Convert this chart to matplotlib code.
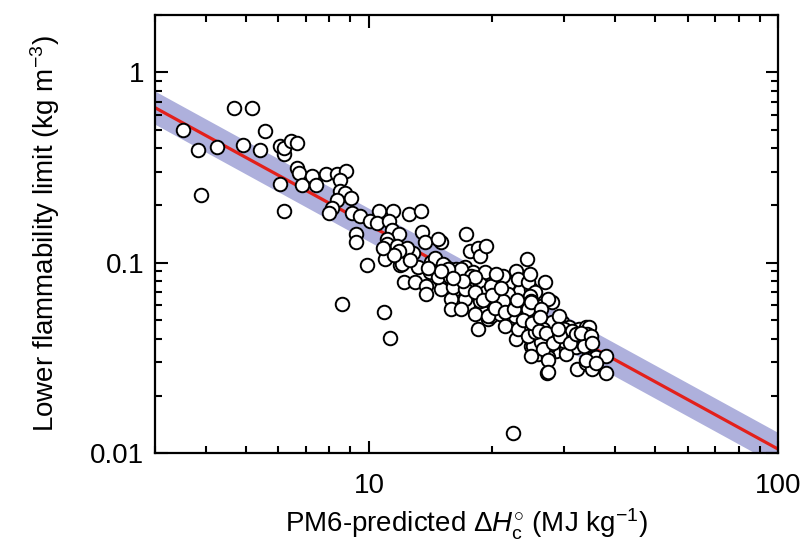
import numpy as np
import matplotlib.pyplot as plt

plt.rcParams.update({"font.family": "Liberation Sans", "font.size": 19,
                     "mathtext.fontset": "custom", "mathtext.rm": "Liberation Sans",
                     "mathtext.it": "Liberation Sans:italic", "mathtext.bf": "Liberation Sans:bold"})

# PM6-predicted heat of combustion (MJ/kg) vs lower flammability limit (kg/m3)
dhc = [3.50, 3.81, 3.88, 4.25, 4.68, 5.18, 4.92, 5.42, 5.57, 6.07, 6.21, 6.21, 6.43, 6.65, 6.65, 6.73, 6.04, 6.84, 6.18,
       7.24, 7.40, 7.83, 8.34, 8.78, 8.48, 8.48, 8.73, 8.34, 8.11, 7.97, 9.03, 9.08, 9.50, 9.29, 9.29,
       10.06, 10.58, 10.46, 11.46, 11.20, 11.40, 11.85, 11.07, 11.07, 11.72, 12.55, 13.36, 12.77, 12.41, 10.95,
       9.89, 11.92, 8.58, 10.89, 11.27,
       13.5, 13.66, 14.95, 14.70, 17.24, 17.62, 18.45, 18.66, 19.30, 11.85, 12.06, 13.13, 14.13, 15.30, 15.74,
       16.28, 17.14, 17.93, 19.19, 12.19, 12.98, 13.74, 14.87, 14.95, 16.19, 17.43, 18.13, 18.77, 13.74, 15.83,
       17.14, 18.45, 15.83, 16.75, 18.77, 19.52, 14.45, 15.13, 14.05, 14.70, 15.74, 16.47, 16.75, 15.57, 16.01,
       17.14, 17.72, 18.66, 19.30, 20.67, 20.67, 21.88, 22.25, 21.02, 19.87, 18.66, 19.87, 22.76, 23.39, 24.92,
       24.49, 26.38, 27.92, 25.93, 24.92, 27.44, 22.89, 24.92, 26.98, 24.49, 25.93, 28.56,
       24.35, 22.89, 26.98, 18.13, 23.15, 24.49, 25.49, 27.44, 24.49, 23.53, 20.90, 22.0, 22.89, 24.21, 25.93,
       29.58, 30.76, 32.53, 33.87, 33.87, 32.53, 30.76, 28.56, 26.98, 25.49, 25.20, 27.44, 30.26, 31.99, 33.87,
       27.44, 27.14, 30.26, 32.17, 33.87, 35.04, 35.84, 37.92, 37.92, 34.45, 19.87, 21.88, 21.26, 24.77, 18.13,
       20.09, 21.26, 23.53, 24.92, 18.13, 19.52, 22.76, 24.49, 26.23, 18.45, 21.50, 23.15, 25.49, 24.49, 26.38,
       26.68, 20.44, 24.77,
       24.92, 26.38, 25.49, 27.92, 29.06, 25.49, 26.68, 28.24, 29.92, 30.76, 31.28, 34.06, 33.46, 24.92, 27.44,
       27.44, 33.87, 35.84, 29.92, 22.50,
       19.0, 20.3, 21.5, 22.6, 23.8, 25.0, 26.0, 27.0, 28.2, 29.2, 31.0, 32.0, 33.0, 34.9, 35.0, 20.0, 21.0,
       23.0, 26.2, 28.9, 17.0, 16.0, 15.0, 13.9, 12.6, 11.5, 10.8]
lfl = [0.50, 0.392, 0.226, 0.406, 0.653, 0.653, 0.416, 0.392, 0.493, 0.411, 0.373, 0.40, 0.437, 0.426, 0.314, 0.296, 0.259, 0.255, 0.186,
       0.285, 0.255, 0.292, 0.292, 0.303, 0.272, 0.238, 0.232, 0.213, 0.195, 0.182, 0.218, 0.182, 0.177, 0.142, 0.129,
       0.165, 0.186, 0.161, 0.186, 0.165, 0.148, 0.142, 0.134, 0.126, 0.122, 0.180, 0.186, 0.112, 0.119, 0.105,
       0.0976, 0.0976, 0.0607, 0.0551, 0.0401,
       0.146, 0.129, 0.129, 0.134, 0.142, 0.116, 0.119, 0.109, 0.123, 0.116, 0.0988, 0.0953, 0.101, 0.0964, 0.0929,
       0.0929, 0.0953, 0.0896, 0.0896, 0.0793, 0.0793, 0.0755, 0.0822, 0.0728, 0.0728, 0.0803, 0.0755, 0.0728, 0.0686, 0.0645,
       0.0645, 0.0669, 0.0571, 0.0571, 0.0585, 0.0506, 0.106, 0.0988, 0.0896, 0.0843, 0.0843, 0.0875, 0.0929, 0.0929, 0.0746,
       0.0728, 0.0853, 0.0774, 0.0702, 0.0853, 0.0728, 0.0774, 0.0661, 0.0622, 0.0629, 0.0629, 0.0524, 0.0607, 0.0711, 0.0728,
       0.0592, 0.0592, 0.0622, 0.0524, 0.0464, 0.0464, 0.0396, 0.0364, 0.0364, 0.0432, 0.0330, 0.0342,
       0.105, 0.0907, 0.0793, 0.0843, 0.0822, 0.0793, 0.0702, 0.0645, 0.0524, 0.0622, 0.0537, 0.0518, 0.0475, 0.0437, 0.0464,
       0.0487, 0.0459, 0.0448, 0.0459, 0.0406, 0.0396, 0.0411, 0.0396, 0.0411, 0.0396, 0.0364, 0.0359, 0.0351, 0.0359, 0.0364,
       0.0318, 0.0265, 0.0330, 0.0275, 0.0299, 0.0275, 0.0318, 0.0322, 0.0265, 0.0459, 0.0755, 0.0686, 0.0853, 0.0669, 0.0702,
       0.0607, 0.0629, 0.0585, 0.0629, 0.0537, 0.0524, 0.0524, 0.0571, 0.0493, 0.0448, 0.0464, 0.0448, 0.0459, 0.0411, 0.0382,
       0.0351, 0.0875, 0.0875,
       0.0622, 0.0571, 0.0487, 0.0487, 0.0524, 0.0432, 0.0448, 0.0421, 0.0448, 0.0406, 0.0437, 0.0421, 0.0364, 0.0322, 0.0310,
       0.0268, 0.0310, 0.0299, 0.0387, 0.0128,
       0.064, 0.058, 0.055, 0.057, 0.050, 0.048, 0.044, 0.043, 0.038, 0.041, 0.038, 0.042, 0.043, 0.041, 0.038, 0.068, 0.074,
       0.064, 0.052, 0.045, 0.080, 0.083, 0.090, 0.094, 0.104, 0.110, 0.120]

# power-law fit and its band (decades either side)
fit_a, fit_b, band_dec = 2.38, -1.178, 0.087

fig = plt.figure(figsize=(8.04, 5.42), dpi=100)
ax = fig.add_axes([0.193, 0.164, 0.775, 0.808])
xf = np.logspace(np.log10(3), 2, 200); yf = fit_a * xf**fit_b
ax.fill_between(xf, yf / 10**band_dec, yf * 10**band_dec, color="#aeb0dc", lw=0, zorder=1)
ax.plot(xf, yf, color="#e3201b", lw=2.3, zorder=2)
ax.scatter(dhc, lfl, s=95, facecolor="white", edgecolor="black", linewidths=1.4, zorder=3)
ax.set_xscale("log"); ax.set_yscale("log")
ax.set_xlim(3, 100); ax.set_ylim(0.01, 2)
ax.set_xticks([10, 100]); ax.set_xticklabels(["10", "100"])
ax.set_yticks([0.01, 0.1, 1]); ax.set_yticklabels(["0.01", "0.1", "1"])
ax.tick_params(which="both", direction="in", top=True, right=True, width=1.5, labelsize=20)
ax.tick_params(axis="x", pad=14); ax.tick_params(axis="y", pad=8)
ax.tick_params(which="major", length=9); ax.tick_params(which="minor", length=5)
for s in ax.spines.values(): s.set_linewidth(1.6)
ax.set_xlabel(r"PM6-predicted $\Delta H_{\rm c}^{\circ}$ (MJ kg$^{-1}$)", fontsize=20, labelpad=6)
ax.set_ylabel(r"Lower flammability limit (kg m$^{-3}$)", fontsize=20, labelpad=20)
fig.savefig("out.png", dpi=100)
